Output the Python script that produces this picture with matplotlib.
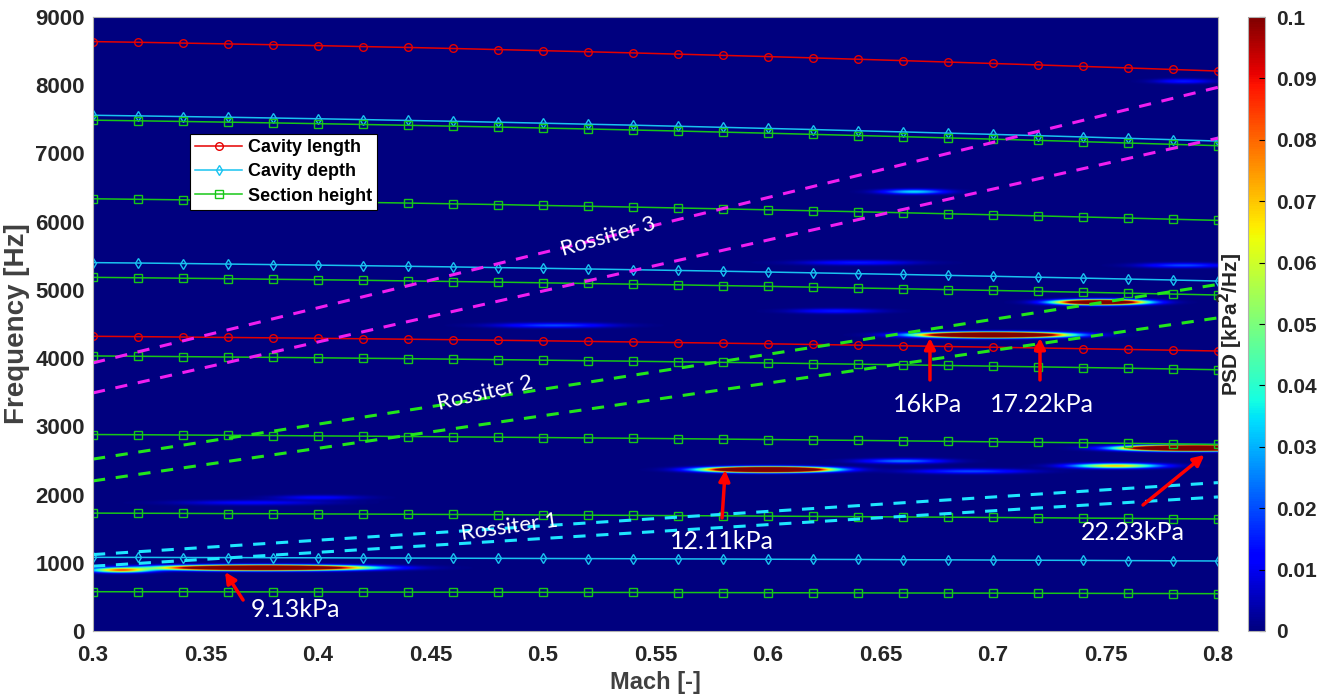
import numpy as np
import matplotlib
matplotlib.use('Agg')
import matplotlib.pyplot as plt

plt.rcParams['font.family'] = ['Liberation Sans', 'DejaVu Sans']

# Mach numbers where the acoustic modes were evaluated
mach = [0.30, 0.32, 0.34, 0.36, 0.38, 0.40, 0.42, 0.44, 0.46, 0.48, 0.50, 0.52, 0.54,
        0.56, 0.58, 0.60, 0.62, 0.64, 0.66, 0.68, 0.70, 0.72, 0.74, 0.76, 0.78, 0.80]

# cavity length modes [Hz]
length_1 = [4320, 4315, 4309, 4303, 4297, 4291, 4284, 4277, 4270, 4262, 4254, 4245, 4237,
            4228, 4219, 4210, 4200, 4190, 4181, 4170, 4160, 4149, 4138, 4127, 4116, 4104]
length_2 = [8640, 8630, 8618, 8606, 8594, 8581, 8567, 8554, 8539, 8523, 8507, 8491, 8474,
            8456, 8438, 8420, 8401, 8381, 8361, 8340, 8319, 8298, 8276, 8254, 8231, 8208]

# cavity depth modes [Hz]
depth_1 = [1080, 1079, 1077, 1076, 1074, 1073, 1071, 1069, 1067, 1065, 1063, 1061, 1059,
           1057, 1055, 1052, 1050, 1048, 1045, 1043, 1040, 1037, 1035, 1032, 1029, 1026]
depth_2 = [5400, 5394, 5387, 5379, 5371, 5363, 5355, 5346, 5337, 5327, 5317, 5307, 5296,
           5285, 5274, 5262, 5250, 5238, 5226, 5213, 5200, 5186, 5173, 5159, 5145, 5130]
depth_3 = [7560, 7551, 7541, 7531, 7520, 7509, 7497, 7484, 7472, 7458, 7444, 7429, 7415,
           7399, 7383, 7367, 7351, 7333, 7316, 7298, 7280, 7261, 7242, 7222, 7202, 7182]

# section height modes [Hz]
height_1 = [576, 575, 575, 574, 573, 572, 571, 570, 569, 568, 567, 566, 565,
            564, 563, 561, 560, 559, 557, 556, 555, 553, 552, 550, 549, 547]
height_2 = [1728, 1726, 1724, 1721, 1719, 1716, 1714, 1711, 1708, 1705, 1701, 1698, 1695,
            1691, 1688, 1684, 1680, 1676, 1672, 1668, 1664, 1660, 1655, 1651, 1646, 1642]
height_3 = [2880, 2877, 2873, 2869, 2865, 2860, 2856, 2851, 2846, 2841, 2836, 2830, 2825,
            2819, 2813, 2807, 2800, 2794, 2787, 2780, 2773, 2766, 2759, 2751, 2744, 2736]
height_4 = [4032, 4027, 4022, 4016, 4011, 4005, 3998, 3992, 3985, 3978, 3970, 3962, 3955,
            3946, 3938, 3929, 3920, 3911, 3902, 3892, 3882, 3872, 3862, 3852, 3841, 3830]
height_5 = [5184, 5178, 5171, 5164, 5156, 5149, 5141, 5132, 5123, 5114, 5104, 5094, 5084,
            5074, 5063, 5052, 5040, 5028, 5017, 5004, 4992, 4979, 4966, 4952, 4939, 4925]
height_6 = [6336, 6328, 6320, 6311, 6302, 6293, 6283, 6273, 6262, 6251, 6238, 6226, 6214,
            6201, 6188, 6174, 6160, 6146, 6131, 6116, 6101, 6085, 6069, 6053, 6036, 6019]
height_7 = [7488, 7479, 7469, 7459, 7448, 7437, 7425, 7413, 7400, 7387, 7373, 7359, 7344,
            7329, 7313, 7297, 7280, 7263, 7246, 7228, 7210, 7192, 7173, 7153, 7134, 7114]

# Rossiter lines, frequency at Mach 0.3 and 0.8 [Hz]
ross_mach = [0.3, 0.8]
ross1_a = [1120, 2175]
ross1_b = [950, 1965]
ross2_a = [2520, 5080]
ross2_b = [2200, 4590]
ross3_a = [3930, 7970]
ross3_b = [3490, 7225]

# PSD peaks: centre Mach, centre freq [Hz], half length in Mach, peak PSD [kPa^2/Hz]
peak_mach = [0.375, 0.312, 0.600, 0.660, 0.690, 0.755, 0.790, 0.700, 0.748,
             0.505, 0.665, 0.785, 0.640, 0.785, 0.370, 0.400, 0.630]
peak_freq = [925, 890, 2365, 2490, 2340, 2420, 2680, 4340, 4820,
             4480, 6440, 5360, 5400, 8060, 1880, 1955, 4690]
peak_len = [0.060, 0.020, 0.036, 0.030, 0.040, 0.030, 0.040, 0.042, 0.028,
            0.040, 0.022, 0.030, 0.040, 0.020, 0.050, 0.030, 0.030]
peak_amp = [0.25, 0.08, 0.30, 0.025, 0.02, 0.07, 0.35, 0.30, 0.20,
            0.02, 0.035, 0.02, 0.015, 0.015, 0.012, 0.012, 0.015]

# build the spectrogram map
mg, fg = np.meshgrid(np.linspace(0.3, 0.8, 700), np.linspace(0, 9000, 2000))
psd = np.zeros_like(mg)
for mc, fc, ln, a in zip(peak_mach, peak_freq, peak_len, peak_amp):
    psd += a * np.exp(-0.5 * ((mg - mc) / (ln / 2.3)) ** 2 - 0.5 * ((fg - fc) / 24.0) ** 2)

fig = plt.figure(figsize=(13.25, 6.98), dpi=100)
ax = fig.add_axes([0.0702, 0.096, 0.849, 0.8796])
cax = fig.add_axes([0.9419, 0.096, 0.0128, 0.8796])

im = ax.imshow(psd, extent=[0.3, 0.8, 0, 9000], origin='lower', aspect='auto',
               cmap='jet', vmin=0, vmax=0.1, interpolation='bilinear')

# mode lines
red = '#e60000'
cyan = '#19c3f0'
green = '#17c717'
ax.plot(mach, length_2, '-o', color=red, mfc='none', ms=5.5, lw=1.1, label='Cavity length')
ax.plot(mach, length_1, '-o', color=red, mfc='none', ms=5.5, lw=1.1)
ax.plot(mach, depth_3, '-d', color=cyan, mfc='none', ms=5.5, lw=1.1, label='Cavity depth')
for f in [depth_2, depth_1]:
    ax.plot(mach, f, '-d', color=cyan, mfc='none', ms=5.5, lw=1.1)
ax.plot(mach, height_7, '-s', color=green, mfc='none', ms=5.5, lw=1.1, label='Section height')
for f in [height_6, height_5, height_4, height_3, height_2, height_1]:
    ax.plot(mach, f, '-s', color=green, mfc='none', ms=5.5, lw=1.1)

# Rossiter modes
for f, c in [(ross1_a, '#1ee6ff'), (ross1_b, '#1ee6ff'), (ross2_a, '#22e61a'),
             (ross2_b, '#22e61a'), (ross3_a, '#f01ef0'), (ross3_b, '#f01ef0')]:
    ax.plot(ross_mach, f, '--', color=c, lw=2.2, dashes=(4, 3.5))

tfont = ['Lato', 'DejaVu Sans']
ax.text(0.4853, 1525, 'Rossiter 1', color='white', fontsize=16, family=tfont,
        rotation=8, ha='center', va='center')
ax.text(0.4742, 3489, 'Rossiter 2', color='white', fontsize=16, family=tfont,
        rotation=13, ha='center', va='center')
ax.text(0.529, 5776, 'Rossiter 3', color='white', fontsize=16, family=tfont,
        rotation=16, ha='center', va='center')

# peak annotations
notes = [('9.13kPa', (0.3587, 865), (0.3667, 454), (0.390, 308)),
         ('12.11kPa', (0.581, 2360), (0.5796, 1657), (0.5796, 1319)),
         ('16kPa', (0.672, 4295), (0.672, 3680), (0.671, 3313)),
         ('17.22kPa', (0.7209, 4295), (0.7209, 3680), (0.722, 3313)),
         ('22.23kPa', (0.794, 2580), (0.7667, 1847), (0.762, 1451))]
for txt, tip, tail, pos in notes:
    ax.annotate('', xy=tip, xytext=tail,
                arrowprops=dict(arrowstyle='-|>', color='red', lw=2.5,
                                mutation_scale=16, shrinkA=0, shrinkB=0))
    ax.text(pos[0], pos[1], txt, color='white', fontsize=18, family=tfont,
            ha='center', va='center')

ax.set_xlim(0.3, 0.8)
ax.set_ylim(0, 9000)
ax.set_xticks([0.3, 0.35, 0.4, 0.45, 0.5, 0.55, 0.6, 0.65, 0.7, 0.75, 0.8])
ax.set_xticklabels(['0.3', '0.35', '0.4', '0.45', '0.5', '0.55', '0.6', '0.65',
                    '0.7', '0.75', '0.8'])
ax.set_yticks(range(0, 9001, 1000))
ax.tick_params(length=0, labelsize=16, labelcolor='#262626', pad=6)
ax.tick_params(axis='x', pad=10)
for lab in ax.get_xticklabels() + ax.get_yticklabels():
    lab.set_fontweight('bold')
ax.set_xlabel('Mach [-]', fontsize=17, fontweight='bold', color='#404040', labelpad=4)
ax.set_ylabel('Frequency [Hz]', fontsize=20, fontweight='bold', color='#404040', labelpad=4)
for s in ax.spines.values():
    s.set_color('#b0b0b0')

leg = ax.legend(loc='upper left', bbox_to_anchor=(0.086, 0.81),
                prop={'weight': 'bold', 'size': 13}, fancybox=False, framealpha=1,
                edgecolor='black', borderpad=0.3, labelspacing=0.4, handlelength=2.6,
                handletextpad=0.3, borderaxespad=0)
leg.get_frame().set_linewidth(0.8)

cb = fig.colorbar(im, cax=cax, ticks=np.arange(0, 0.1001, 0.01))
cb.set_ticklabels(['0', '0.01', '0.02', '0.03', '0.04', '0.05', '0.06', '0.07',
                   '0.08', '0.09', '0.1'])
cax.tick_params(direction='in', length=4, labelsize=15, labelcolor='#262626', pad=8)
for lab in cax.get_yticklabels():
    lab.set_fontweight('bold')
cax.yaxis.set_label_position('left')
cb.set_label('PSD [kPa$^{\\mathbf{2}}$/Hz]', fontsize=15, fontweight='bold',
             color='#262626', labelpad=2)
cb.outline.set_edgecolor('#b0b0b0')

fig.savefig('out.png', dpi=100)
